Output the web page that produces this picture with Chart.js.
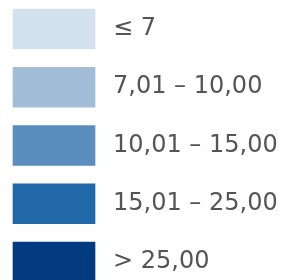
<!DOCTYPE html>
<html>
<head>
<meta charset="utf-8">
<script src="https://cdn.jsdelivr.net/npm/chart.js@4"></script>
<style>
  html, body { margin: 0; padding: 0; background: #fff; }
  #wrap { width: 288px; height: 280px; }
</style>
</head>
<body>
<div id="wrap"><canvas id="legendChart"></canvas></div>
<script>
const classLabels = ["≤ 7", "7,01 – 10,00", "10,01 – 15,00", "15,01 – 25,00", "> 25,00"];
const swatchValues = [1, 1, 1, 1, 1];
const swatchColors = ["#d4e2ee", "#a1bdd8", "#5b8dbf", "#2168a8", "#033b80"];

const ctxLegend = document.getElementById("legendChart").getContext("2d");
const legendChart = new Chart(ctxLegend, {
  type: "bar",
  data: {
    labels: classLabels,
    datasets: [
      {
        data: swatchValues,
        backgroundColor: swatchColors,
        barThickness: 40,
        borderWidth: 0,
        clip: false,
      },
    ],
  },
  options: {
    indexAxis: "y",
    responsive: true,
    maintainAspectRatio: false,
    animation: false,
    layout: { padding: { left: 13, right: 0, top: 29, bottom: 18 } },
    plugins: { legend: { display: false }, tooltip: { enabled: false } },
    scales: {
      x: { display: false, min: 0, max: 1 },
      y: {
        position: "right",
        offset: false,
        border: { display: false },
        grid: { display: false, drawTicks: false },
        ticks: {
          padding: 18,
          color: "#555555",
          font: { family: "DejaVu Sans", size: 24 },
        },
        afterFit: (scale) => {
          scale.width = 288 - 95;
          scale.paddingTop = 0;
          scale.paddingBottom = 0;
        },
      },
    },
  },
});
</script>
</body>
</html>
